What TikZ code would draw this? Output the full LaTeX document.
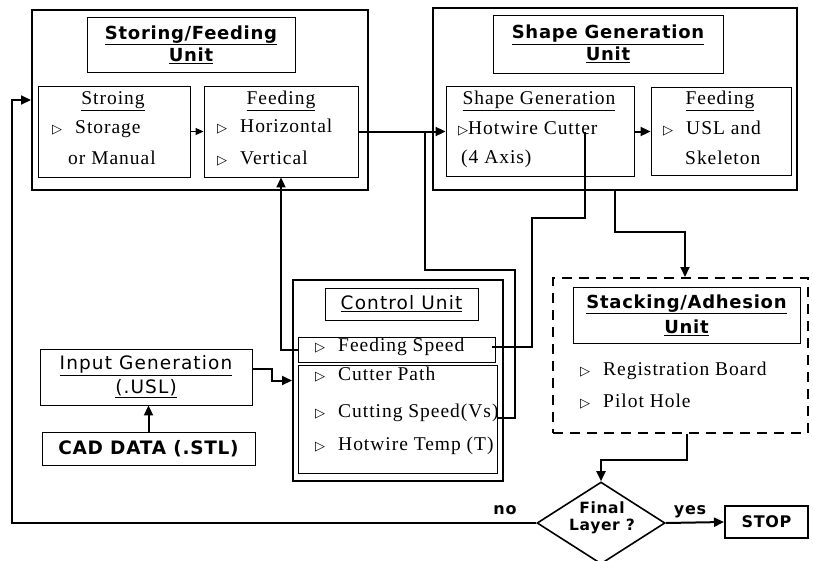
\documentclass[tikz,border=0pt]{standalone}
\usepackage{fontspec}
\setmainfont{Liberation Serif}
\newfontfamily\ttl[LetterSpace=4]{DejaVu Sans}
\newfontfamily\snf[LetterSpace=6]{DejaVu Sans}
\newfontfamily\srf[LetterSpace=5]{Liberation Serif}
\newfontfamily\sym{DejaVu Sans}
\usetikzlibrary{arrows.meta,shapes.geometric}
\newcommand{\tri}{\makebox[23pt][l]{\sym\fontsize{13}{13}\selectfont ▷}}
\newcommand{\trs}{\makebox[10pt][l]{\sym\fontsize{13}{13}\selectfont ▷}}
\tikzset{
  outer/.style={draw, line width=2pt, inner sep=0pt},
  thinbox/.style={draw, line width=0.9pt, inner sep=0pt},
  conn/.style={line width=2pt},
  arr/.style={conn, -{Triangle[length=10pt,width=9pt]}},
  thinarr/.style={line width=1pt, -{Triangle[length=8pt,width=7pt]}},
  itm/.style={anchor=mid west, inner sep=0pt, font=\srf\fontsize{19.5}{21}\selectfont},
  itmc/.style={anchor=mid, inner sep=0pt, font=\srf\fontsize{19.5}{21}\selectfont},
  ttlt/.style={align=center, font=\ttl\bfseries\fontsize{18}{22}\selectfont},
  sant/.style={align=center, font=\snf\fontsize{18.5}{24}\selectfont},
  lbl/.style={anchor=mid, inner sep=0pt, font=\ttl\bfseries\fontsize{16}{16}\selectfont},
}
\begin{document}
\begin{tikzpicture}[x=1pt,y=-1pt]
\useasboundingbox (0,0) rectangle (813,560);

% Storing / Feeding unit
\node[outer, minimum width=336pt, minimum height=180pt] (sfu) at (200,100) {};
\node[thinbox, ttlt, minimum width=208pt, minimum height=55pt] (sft) at (191,44.5) {\underline{Storing/Feeding}\\\underline{Unit}};
\node[thinbox, minimum width=152pt, minimum height=91pt] (stb) at (114,131.5) {};
\node[thinbox, minimum width=154pt, minimum height=91pt] (fdb) at (281,131.5) {};
\node[itmc] (stbh) at (113,102) {\underline{Stroing}};
\node[itm] (stb1) at (52,131) {\tri Storage};
\node[itm] (stb2) at (68,162) {or Manual};
\node[itmc] (fdbh) at (281,102) {\underline{Feeding}};
\node[itm] (fdb1) at (217,130) {\tri Horizontal};
\node[itm] (fdb2) at (217,162) {\tri Vertical};

% Shape generation unit
\node[outer, minimum width=364pt, minimum height=182pt] (sgu) at (615,99) {};
\node[thinbox, ttlt, minimum width=230pt, minimum height=58pt] (sgt) at (608,44) {\underline{Shape Generation}\\\underline{Unit}};
\node[thinbox, minimum width=188pt, minimum height=90pt] (sgb) at (540,131.5) {};
\node[thinbox, minimum width=140pt, minimum height=88pt] (fd2) at (721,131.5) {};
\node[itmc] (sgbh) at (539,102) {\underline{Shape Generation}};
\node[itm] (sgb1) at (458,132) {\trs Hotwire Cutter};
\node[itm] (sgb2) at (461,161) {(4 Axis)};
\node[itmc] (fd2h) at (720,102) {\underline{Feeding}};
\node[itm] (fd21) at (663,132) {\tri USL and};
\node[itm] (fd22) at (685,162) {Skeleton};

% Control unit
\node[outer, minimum width=210pt, minimum height=201pt] (cu) at (398,380.5) {};
\node[thinbox, sant, minimum width=153pt, minimum height=32pt] (cut) at (401.5,304) {\underline{Control Unit}};
\node[thinbox, minimum width=197pt, minimum height=25pt] (fsb) at (396.5,349.5) {};
\node[thinbox, minimum width=199pt, minimum height=108pt] (lwb) at (397.5,419) {};
\node[itm] (c1) at (315,349) {\tri Feeding Speed};
\node[itm] (c2) at (315,378) {\tri Cutter Path};
\node[itm] (c3) at (315,415) {\tri Cutting Speed(Vs)};
\node[itm] (c4) at (315,448) {\tri Hotwire Temp (T)};

% Input generation / CAD
\node[thinbox, sant, minimum width=212pt, minimum height=56pt] (ig) at (146,377) {\underline{Input Generation}\\\underline{(.USL)}};
\node[thinbox, font=\ttl\bfseries\fontsize{18.5}{22}\selectfont, minimum width=213pt, minimum height=33pt] (cad) at (148.5,448.5) {CAD DATA (.STL)};

% Stacking / adhesion unit
\node[draw, line width=2pt, dash pattern=on 10pt off 7pt, inner sep=0pt, minimum width=255pt, minimum height=155pt] (sau) at (680.5,355.5) {};
\node[thinbox, align=center, font=\ttl\bfseries\fontsize{18}{25}\selectfont, minimum width=227pt, minimum height=56pt] (sat) at (686.5,315) {\underline{Stacking/Adhesion}\\\underline{Unit}};
\node[itm] (s1) at (580,373) {\tri Registration Board};
\node[itm] (s2) at (580,405) {\tri Pilot Hole};

% Decision and stop
\node[draw, diamond, line width=1.6pt, inner sep=0pt, minimum width=128pt, minimum height=82pt] (dec) at (601,523) {};
\node[align=center, inner sep=0pt, font=\ttl\bfseries\fontsize{15.5}{17}\selectfont] (dect) at (602,518) {Final\\Layer ?};
\node[draw, line width=2pt, inner sep=0pt, font=\ttl\bfseries\fontsize{16}{16}\selectfont, minimum width=83pt, minimum height=32pt] (stop) at (766.5,522) {STOP};
\node[lbl] (no) at (505,512) {no};
\node[lbl] (yes) at (690,512) {yes};

% connectors
\coordinate (j1) at (425,131.5);
\coordinate (cs) at (498,418);
\coordinate (hw) at (585,131.5);
\coordinate (fsp) at (492,347);
\coordinate (lp) at (12,523);

\draw[thinarr] (stb.east) -- (fdb.west);
\draw[arr] (fdb.east) -- (sgb.west);
\draw[arr] (sgb.east) -- (fd2.west);
\draw[conn] (j1) -- (425,270) -| (515,418) -- (cs);
\draw[conn] (hw) -- (585,218) -| (532,347) -- (fsp);
\draw[arr] (fsb.west) -| (fdb.south);
\draw[arr] ([yshift=8pt]ig.east) -- (272,369) |- (cu.west);
\draw[arr] (cad.north) -- (cad.north |- ig.south);
\draw[arr] (sgu.south) -- (615,232) -| ([xshift=4.5pt]sau.north);
\draw[arr] ([xshift=6.5pt]sau.south) -- (687,460) -| (dec.north);
\draw[arr] (dec.east) -- (stop.west);
\draw[arr] (dec.west) -- (lp) |- (sfu.west);
\end{tikzpicture}
\end{document}
